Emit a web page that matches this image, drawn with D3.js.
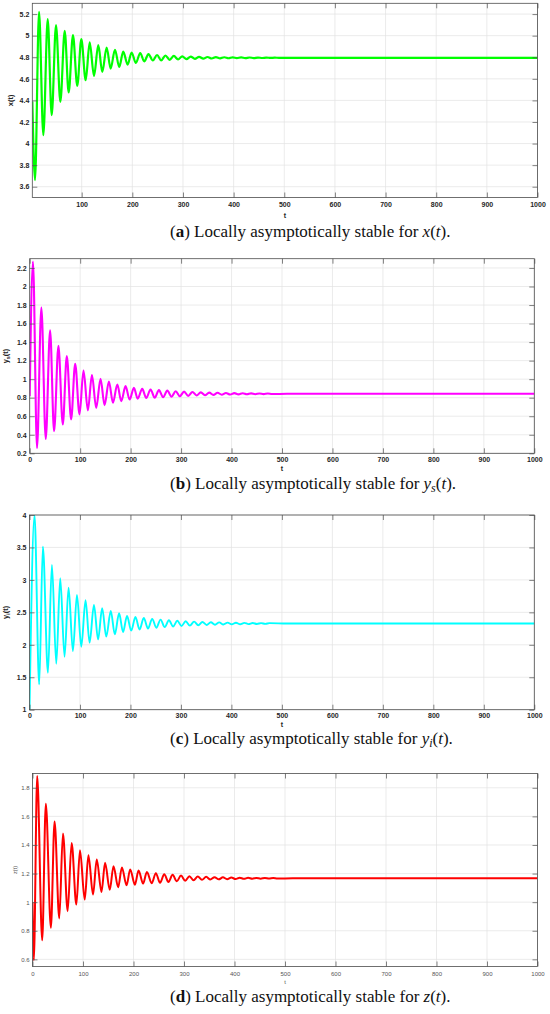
<!DOCTYPE html>
<html><head><meta charset="utf-8">
<script src="https://cdn.jsdelivr.net/npm/d3@7"></script>
<style>body{margin:0;background:#fff}</style>
</head><body>
<svg id="chart" width="550" height="1014"></svg>
<script>
// ---------- DATA (extrema) ----------
const tX = [2.6, 7.9, 15.8, 24.3, 32.9, 40.8, 49.3, 57.9, 66.5, 74.3, 82.8, 91.3, 99.3, 107.9, 115.8, 124.3, 132.8, 140.7, 149.3, 157.2, 165.7, 174.2, 182, 190.7, 198.6, 207, 215.6, 223.5, 231.9, 240.5,
  248.8, 257.1, 265.4, 273.7, 282, 290.3, 298.6, 306.9, 315.2, 323.5, 331.8, 340.1, 348.4, 356.7, 365, 373.3, 381.6, 389.9, 398.2, 406.5, 414.8, 423.1, 431.4, 439.7, 448, 456.3, 464.6, 472.9, 481.2, 489.5,
  520, 600, 700, 800, 900, 1000];
const xVals = [4.39, 3.661, 5.22, 4.078, 5.153, 4.263, 5.097, 4.387, 5.045, 4.473, 5.005, 4.535, 4.968, 4.587, 4.937, 4.627, 4.912, 4.664, 4.89, 4.695, 4.869, 4.71, 4.853, 4.732, 4.844, 4.747, 4.838, 4.762, 4.829, 4.77,
  4.821, 4.7716, 4.816, 4.776, 4.812, 4.7796, 4.8089, 4.7825, 4.8062, 4.7849, 4.8041, 4.7868, 4.8024, 4.7884, 4.801, 4.7896, 4.7998, 4.7906, 4.7989, 4.7915, 4.7982, 4.7921, 4.7976, 4.7927, 4.7971, 4.7931, 4.7967, 4.7935, 4.7964, 4.7938,
  4.795, 4.795, 4.795, 4.795, 4.795, 4.795];

const tYs = [0, 6.5, 14.5, 23.1, 31.8, 40.4, 48.3, 56.9, 65.6, 73.5, 82.1, 90.1, 98.7, 106.6, 115.3, 123.3, 131.8, 140.4, 148.3, 157, 165, 173.6, 181.5, 190, 198, 206.5, 214, 223, 231,
  239.5, 247.8, 256.1, 264.4, 272.7, 281, 289.3, 297.6, 305.9, 314.2, 322.5, 330.8, 339.1, 347.4, 355.7, 364, 372.3, 380.6, 388.9, 397.2, 405.5, 413.8, 422.1, 430.4, 438.7, 447, 455.3, 463.6, 471.9, 480.2,
  510, 1000];
const ysVals = [0.815, 2.27, 0.257, 1.774, 0.354, 1.528, 0.438, 1.359, 0.51, 1.25, 0.565, 1.167, 0.619, 1.094, 0.663, 1.044, 0.69, 1.004, 0.72, 0.975, 0.745, 0.942, 0.763, 0.925, 0.78, 0.906, 0.79, 0.895, 0.797,
  0.889, 0.799, 0.882, 0.805, 0.876, 0.811, 0.870, 0.816, 0.866, 0.820, 0.862, 0.824, 0.858, 0.827, 0.855, 0.830, 0.853, 0.832, 0.851, 0.834, 0.8492, 0.8355, 0.848, 0.8367, 0.8468, 0.8377, 0.8459, 0.8385, 0.845, 0.8393,
  0.842, 0.842];

const tYi = [0, 9.9, 19.2, 26.5, 36.5, 44.4, 53, 60.9, 69.4, 77.4, 86, 94, 102.6, 111, 119, 127.7, 135.8, 144, 152, 161, 169, 177.5, 185.3, 193.2,
  201.5, 209.8, 218.1, 226.4, 234.7, 243, 251.3, 259.6, 267.9, 276.2, 284.5, 292.8, 301.1, 309.4, 317.7, 326, 334.3, 342.6, 350.9, 359.2, 367.5, 375.8, 384.1, 392.4, 400.7, 409, 417.3, 425.6, 433.9, 442.2, 450.5, 458.8, 467.1, 475.4,
  510, 1000];
const yiVals = [1.0, 4.0, 1.39, 3.513, 1.57, 3.231, 1.709, 3.025, 1.817, 2.881, 1.903, 2.767, 1.971, 2.686, 2.033, 2.614, 2.083, 2.563, 2.126, 2.521, 2.161, 2.485, 2.197, 2.444,
  2.218, 2.428, 2.236, 2.413, 2.25, 2.399, 2.263, 2.388, 2.273, 2.378, 2.282, 2.37, 2.29, 2.363, 2.296, 2.357, 2.301, 2.352, 2.306, 2.348, 2.31, 2.345, 2.313, 2.342, 2.315, 2.34, 2.317, 2.338, 2.319, 2.336, 2.321, 2.3345, 2.322, 2.3335,
  2.328, 2.328];

const tZ = [0, 2.6, 9.3, 19.2, 26.4, 36.4, 43.7, 53, 60.3, 69.6, 77.5, 86.8, 94, 103.4, 110.7, 119.9, 127.2, 136.6, 143.7, 153, 160.4, 169.6, 177, 186.3, 193.4, 202.8, 210, 219, 226.5, 236,
  244.3, 252.6, 260.9, 269.2, 277.5, 285.8, 294.1, 302.4, 310.7, 319, 327.3, 335.6, 343.9, 352.2, 360.5, 368.8, 377.1, 385.4, 393.7, 402, 410.3, 418.6, 426.9, 435.2, 443.5, 451.8, 460.1, 468.4, 476.7, 485,
  515, 1000];
const zVals = [1.0, 0.593, 1.883, 0.733, 1.689, 0.821, 1.565, 0.886, 1.48, 0.937, 1.414, 0.983, 1.364, 1.018, 1.329, 1.053, 1.299, 1.071, 1.275, 1.087, 1.252, 1.104, 1.243, 1.118, 1.229, 1.122, 1.222, 1.13, 1.211, 1.133,
  1.203, 1.135, 1.196, 1.141, 1.191, 1.146, 1.186, 1.150, 1.182, 1.153, 1.1795, 1.156, 1.177, 1.158, 1.175, 1.1597, 1.1736, 1.161, 1.1723, 1.1622, 1.1713, 1.1631, 1.1705, 1.1639, 1.1698, 1.1645, 1.1693, 1.165, 1.1688, 1.1654,
  1.167, 1.167];

const xTicksA = [100, 200, 300, 400, 500, 600, 700, 800, 900, 1000];
const xTicksFull = [0, 100, 200, 300, 400, 500, 600, 700, 800, 900, 1000];
const yTicksX = [3.6, 3.8, 4, 4.2, 4.4, 4.6, 4.8, 5, 5.2];
const yTicksYs = [0.2, 0.4, 0.6, 0.8, 1, 1.2, 1.4, 1.6, 1.8, 2, 2.2];
const yTicksYi = [1, 1.5, 2, 2.5, 3, 3.5, 4];
const yTicksZ = [0.6, 0.8, 1, 1.2, 1.4, 1.6, 1.8];

// ---------- DRAWING ----------
const svg = d3.select("#chart");

const panels = [
  {key:"a", t:tX, v:xVals, color:"#00ff00", lw:2.2, left:32.3, right:537.5, top:3.3, bottom:197.5,
   xdom:[2.5,1000], ydom:[3.5,5.3], xticks:xTicksA, yticks:yTicksX,
   tickFont:7, tickWeight:"bold", tickColor:"#262626", xPad:5, tY:20.3,
   ylab:[{t:"x(t)"}], ylabX:13, ylabFont:7.5,
   cap:[{t:"("},{t:"a",b:1},{t:") Locally asymptotically stable for "},{t:"x",i:1},{t:"("},{t:"t",i:1},{t:")."}], capY:236.5},
  {key:"b", t:tYs, v:ysVals, color:"#ff00ff", lw:2.1, left:29.7, right:534.3, top:258.7, bottom:453.3,
   xdom:[0,1000], ydom:[0.2,2.3], xticks:xTicksFull, yticks:yTicksYs,
   tickFont:7, tickWeight:"bold", tickColor:"#262626", xPad:4, tY:17.7,
   ylab:[{t:"y"},{t:"s",sub:1},{t:"(t)"}], ylabX:8, ylabFont:7.5,
   cap:[{t:"("},{t:"b",b:1},{t:") Locally asymptotically stable for "},{t:"y",i:1},{t:"s",i:1,sub:1},{t:"("},{t:"t",i:1},{t:")."}], capY:488.5},
  {key:"c", t:tYi, v:yiVals, color:"#00ffff", lw:1.9, left:29.5, right:534.3, top:515, bottom:709.7,
   xdom:[0,1000], ydom:[1,4], xticks:xTicksFull, yticks:yTicksYi,
   tickFont:7, tickWeight:"bold", tickColor:"#262626", xPad:3.5, tY:16.8,
   ylab:[{t:"y"},{t:"i",sub:1},{t:"(t)"}], ylabX:8, ylabFont:7.5,
   cap:[{t:"("},{t:"c",b:1},{t:") Locally asymptotically stable for "},{t:"y",i:1},{t:"i",i:1,sub:1},{t:"("},{t:"t",i:1},{t:")."}], capY:743.5},
  {key:"d", t:tZ, v:zVals, color:"#ff0000", lw:2.0, left:32.5, right:537.5, top:773.5, bottom:966.5,
   xdom:[0,1000], ydom:[0.55,1.9], xticks:xTicksFull, yticks:yTicksZ,
   tickFont:6, tickWeight:"normal", tickColor:"#555", xPad:5, tY:17,
   ylab:[{t:"z(t)"}], ylabX:17, ylabFont:5.5,
   cap:[{t:"("},{t:"d",b:1},{t:") Locally asymptotically stable for "},{t:"z",i:1},{t:"("},{t:"t",i:1},{t:")."}], capY:1001.5}
];

function addRich(textSel, parts, subSize, subShift) {
  let shifted = false;
  parts.forEach(p => {
    const ts = textSel.append("tspan").text(p.t);
    if (p.b) ts.attr("font-weight", "bold");
    if (p.i) ts.attr("font-style", "italic");
    if (p.sub) { ts.attr("font-size", subSize).attr("dy", subShift); shifted = true; }
    else if (shifted) { ts.attr("dy", -subShift); shifted = false; }
  });
}

panels.forEach(p => {
  const x = d3.scaleLinear().domain(p.xdom).range([p.left, p.right]);
  const y = d3.scaleLinear().domain(p.ydom).range([p.bottom, p.top]);
  const g = svg.append("g");
  const W = p.right - p.left, H = p.bottom - p.top;

  // grid
  g.append("g").selectAll("line").data(p.xticks).join("line")
    .attr("x1", d => x(d)).attr("x2", d => x(d)).attr("y1", p.top).attr("y2", p.bottom)
    .attr("stroke", "#e2e2e2").attr("stroke-width", 0.7);
  g.append("g").selectAll("line").data(p.yticks).join("line")
    .attr("y1", d => y(d)).attr("y2", d => y(d)).attr("x1", p.left).attr("x2", p.right)
    .attr("stroke", "#e2e2e2").attr("stroke-width", 0.7);

  // clip + line
  svg.append("clipPath").attr("id", "clip" + p.key).append("rect")
    .attr("x", p.left).attr("y", p.top).attr("width", W).attr("height", H);
  const line = d3.line().x(d => x(d[0])).y(d => y(d[1])).curve(d3.curveMonotoneX);
  g.append("path").datum(d3.zip(p.t, p.v)).attr("d", line)
    .attr("fill", "none").attr("stroke", p.color).attr("stroke-width", p.lw)
    .attr("stroke-linejoin", "round").attr("clip-path", `url(#clip${p.key})`);

  // axes (inward ticks on all four sides)
  const fmt = d => String(d);
  const styleAxis = sel => {
    sel.select(".domain").remove();
    sel.selectAll(".tick line").attr("stroke", "#4d4d4d").attr("stroke-width", 0.7);
    sel.selectAll(".tick text").attr("fill", p.tickColor).attr("font-size", p.tickFont)
      .attr("font-weight", p.tickWeight).attr("font-family", "Liberation Sans, Arial, sans-serif");
  };
  g.append("g").attr("transform", `translate(0,${p.bottom})`)
    .call(d3.axisBottom(x).tickValues(p.xticks).tickSize(-5).tickPadding(p.xPad).tickFormat(fmt)).call(styleAxis);
  g.append("g").attr("transform", `translate(0,${p.top})`)
    .call(d3.axisTop(x).tickValues(p.xticks).tickSize(-5).tickFormat("")).call(styleAxis);
  g.append("g").attr("transform", `translate(${p.left},0)`)
    .call(d3.axisLeft(y).tickValues(p.yticks).tickSize(-5).tickPadding(3).tickFormat(fmt)).call(styleAxis);
  g.append("g").attr("transform", `translate(${p.right},0)`)
    .call(d3.axisRight(y).tickValues(p.yticks).tickSize(-5).tickFormat("")).call(styleAxis);

  // box
  g.append("rect").attr("x", p.left).attr("y", p.top).attr("width", W).attr("height", H)
    .attr("fill", "none").attr("stroke", "#4d4d4d").attr("stroke-width", 0.8);

  // x label
  g.append("text").attr("x", (p.left + p.right) / 2).attr("y", p.bottom + p.tY)
    .attr("text-anchor", "middle").attr("font-family", "Liberation Sans, Arial, sans-serif")
    .attr("font-size", p.tickFont).attr("font-weight", p.tickWeight).attr("fill", p.tickColor).text("t");

  // y label
  const yl = g.append("text")
    .attr("transform", `translate(${p.ylabX},${(p.top + p.bottom) / 2}) rotate(-90)`)
    .attr("text-anchor", "middle").attr("font-family", "Liberation Sans, Arial, sans-serif")
    .attr("font-size", p.ylabFont).attr("font-weight", p.tickWeight).attr("fill", p.tickColor);
  addRich(yl, p.ylab, p.ylabFont * 0.72, 2);

  // caption
  const cap = svg.append("text").attr("x", 170).attr("y", p.capY)
    .attr("font-family", "Liberation Serif, 'DejaVu Serif', serif").attr("font-size", 17).attr("fill", "#111");
  addRich(cap, p.cap, 12, 3);
});
</script>
</body></html>
